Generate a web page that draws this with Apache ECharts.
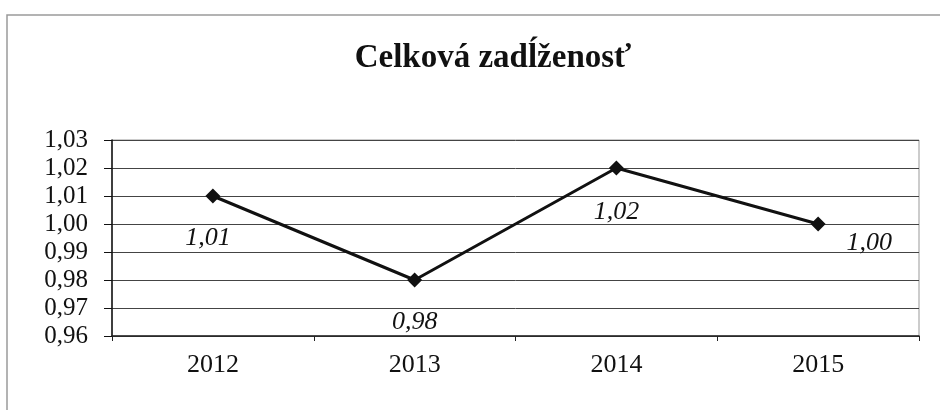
<!DOCTYPE html>
<html>
<head>
<meta charset="utf-8">
<script src="https://cdn.jsdelivr.net/npm/echarts@6/dist/echarts.min.js"></script>
<style>
  html, body { margin: 0; padding: 0; background: #fff; }
  #chart { width: 940px; height: 416px; }
</style>
</head>
<body>
<div id="chart"></div>
<script>
var years = ['2012', '2013', '2014', '2015'];
var debtRatio = [1.01, 0.98, 1.02, 1.00];
var chartTitle = 'Celková zadĺženosť';

function fmt(v) {
    return v.toFixed(2).replace('.', ',');
}

// label shifts relative to each point (px), the last one sits to the right
var labelShift = [[-5, 42], [0, 42], [0, 44], [51, 19]];

var chart = echarts.init(document.getElementById('chart'));

var option = {
    animation: false,
    backgroundColor: '#fff',
    graphic: [
        {
            type: 'polyline',
            shape: { points: [[7, 410], [7, 15], [940, 15]] },
            style: { stroke: '#9a9a9a', lineWidth: 1.5, fill: null }
        },
        {
            type: 'text',
            x: 493,
            y: 58,
            style: {
                text: chartTitle,
                font: 'bold 33px "Liberation Serif"',
                fill: '#111',
                textAlign: 'center',
                textVerticalAlign: 'middle'
            }
        }
    ],
    grid: {
        left: 112,
        right: 21,
        top: 140,
        bottom: 80,
        show: true,
        borderColor: '#999',
        borderWidth: 1
    },
    xAxis: {
        type: 'category',
        data: years,
        boundaryGap: true,
        axisLine: { lineStyle: { color: '#222', width: 1.5 } },
        axisTick: { show: true, length: 5, lineStyle: { color: '#222' } },
        axisLabel: {
            margin: 16,
            color: '#111',
            fontFamily: 'Liberation Serif',
            fontSize: 26
        }
    },
    yAxis: {
        type: 'value',
        min: 0.96,
        max: 1.03,
        interval: 0.01,
        axisLine: { show: true, lineStyle: { color: '#111', width: 1.5 } },
        axisTick: { show: true, length: 8, lineStyle: { color: '#111' } },
        splitLine: { lineStyle: { color: '#444', width: 1 } },
        axisLabel: {
            margin: 24,
            color: '#111',
            fontFamily: 'Liberation Serif',
            fontSize: 25,
            formatter: function (v) { return fmt(v); }
        }
    },
    series: [{
        type: 'line',
        data: debtRatio.map(function (v, i) {
            return {
                value: v,
                label: { offset: labelShift[i] }
            };
        }),
        symbol: 'diamond',
        symbolSize: 15,
        lineStyle: { color: '#111', width: 3 },
        itemStyle: { color: '#111' },
        label: {
            show: true,
            position: 'inside',
            color: '#111',
            fontFamily: 'Liberation Serif',
            fontStyle: 'italic',
            fontSize: 26,
            formatter: function (p) { return fmt(p.value); }
        }
    }]
};

chart.setOption(option);
</script>
</body>
</html>
